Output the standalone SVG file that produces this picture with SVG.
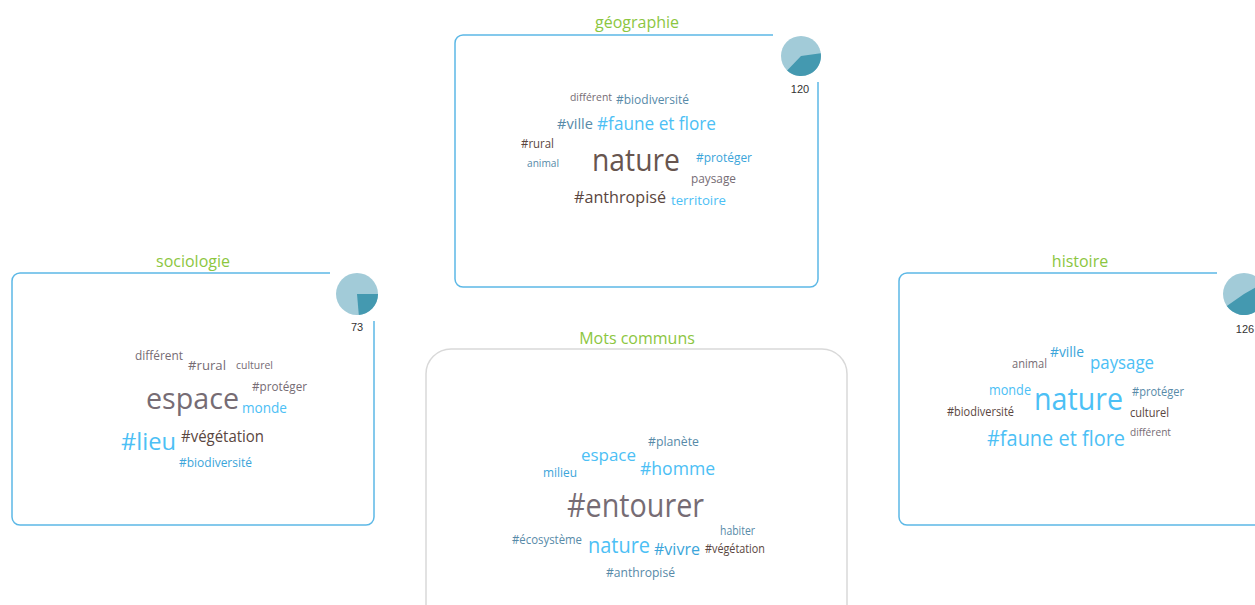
<svg xmlns="http://www.w3.org/2000/svg" width="1255" height="605" viewBox="0 0 1255 605">
<style>
text{font-family:"Open Sans","Noto Sans","DejaVu Sans",sans-serif}
.box{fill:none;stroke:#5cb8e6;stroke-width:1.5}
.cbox{fill:none;stroke:#d9d9d9;stroke-width:1.5}
.title{fill:#8cc63f;font-size:16px;text-anchor:middle}
.num{font-family:"Liberation Sans",Arial,sans-serif;font-size:11px;fill:#333;text-anchor:middle}
.pl{fill:#a2cbd8}
.pd{fill:#4499b0}
.g{fill:#766c74}
.br{fill:#67554f}
.db{fill:#5a4640}
.lb{fill:#4cc0f5}
.mb{fill:#3ba5da}
.sb{fill:#578aa8}
</style>
<rect width="1255" height="605" fill="#fff"/>
<g id="connectors"/>

<g id="node-geographie">
<text class="title" x="637" y="28">géographie</text>
<path class="box" d="M773,35 H463 A8,8 0 0 0 455,43 V279 A8,8 0 0 0 463,287 H810 A8,8 0 0 0 818,279 V82"/>
<circle class="pl" cx="801" cy="56" r="20"/>
<path class="pd" d="M801,56 L820.80,53.2 A20,20 0 0 1 787.14,70.39 Z"/>
<text class="num" x="800" y="93">120</text>
<text class="g" x="570" y="101" font-size="11" textLength="42" lengthAdjust="spacingAndGlyphs">différent</text>
<text class="sb" x="616" y="104" font-size="12" textLength="73" lengthAdjust="spacingAndGlyphs">#biodiversité</text>
<text class="sb" x="557" y="129" font-size="15" textLength="36" lengthAdjust="spacingAndGlyphs">#ville</text>
<text class="lb" x="597" y="130" font-size="18" textLength="119" lengthAdjust="spacingAndGlyphs">#faune et flore</text>
<text class="db" x="521" y="148" font-size="12" textLength="33" lengthAdjust="spacingAndGlyphs">#rural</text>
<text class="sb" x="527" y="167" font-size="11.5" textLength="32" lengthAdjust="spacingAndGlyphs">animal</text>
<text class="br" x="592" y="171" font-size="31" textLength="88" lengthAdjust="spacingAndGlyphs">nature</text>
<text class="mb" x="696" y="162" font-size="12.5" textLength="56" lengthAdjust="spacingAndGlyphs">#protéger</text>
<text class="g" x="691" y="183" font-size="12" textLength="45" lengthAdjust="spacingAndGlyphs">paysage</text>
<text class="db" x="574" y="203" font-size="16.5" textLength="92" lengthAdjust="spacingAndGlyphs">#anthropisé</text>
<text class="lb" x="671" y="205" font-size="13.5" textLength="55" lengthAdjust="spacingAndGlyphs">territoire</text>
</g>

<g id="node-sociologie">
<text class="title" x="193" y="267">sociologie</text>
<path class="box" d="M330,273 H20 A8,8 0 0 0 12,281 V517 A8,8 0 0 0 20,525 H366 A8,8 0 0 0 374,517 V321"/>
<circle class="pl" cx="357" cy="294" r="21"/>
<path class="pd" d="M357,294 L378,294 A21,21 0 0 1 358.83,314.92 Z"/>
<text class="num" x="357" y="331">73</text>
<text class="g" x="135" y="360" font-size="12" textLength="48" lengthAdjust="spacingAndGlyphs">différent</text>
<text class="g" x="188" y="370" font-size="13.5" textLength="38" lengthAdjust="spacingAndGlyphs">#rural</text>
<text class="g" x="236" y="369" font-size="11.5" textLength="37" lengthAdjust="spacingAndGlyphs">culturel</text>
<text class="g" x="252" y="391" font-size="12.5" textLength="55" lengthAdjust="spacingAndGlyphs">#protéger</text>
<text class="g" x="146" y="409" font-size="30" textLength="93" lengthAdjust="spacingAndGlyphs">espace</text>
<text class="lb" x="242" y="413" font-size="14.5" textLength="45" lengthAdjust="spacingAndGlyphs">monde</text>
<text class="lb" x="121" y="450" font-size="24" textLength="55" lengthAdjust="spacingAndGlyphs">#lieu</text>
<text class="db" x="181" y="442" font-size="16.5" textLength="83" lengthAdjust="spacingAndGlyphs">#végétation</text>
<text class="mb" x="179" y="467" font-size="12.5" textLength="73" lengthAdjust="spacingAndGlyphs">#biodiversité</text>
</g>

<g id="node-histoire">
<text class="title" x="1080" y="267">histoire</text>
<path class="box" d="M1217,273 H907 A8,8 0 0 0 899,281 V517 A8,8 0 0 0 907,525 H1255"/>
<circle class="pl" cx="1244" cy="294" r="21"/>
<path class="pd" d="M1244,294 L1262.19,283.5 A21,21 0 0 1 1226.80,306.05 Z"/>
<text class="num" x="1245" y="333">126</text>
<text class="g" x="1012" y="368" font-size="12" textLength="35" lengthAdjust="spacingAndGlyphs">animal</text>
<text class="mb" x="1050" y="357" font-size="15" textLength="34" lengthAdjust="spacingAndGlyphs">#ville</text>
<text class="lb" x="1090" y="369" font-size="18" textLength="64" lengthAdjust="spacingAndGlyphs">paysage</text>
<text class="lb" x="989" y="395" font-size="14.5" textLength="42" lengthAdjust="spacingAndGlyphs">monde</text>
<text class="lb" x="1034" y="410" font-size="31" textLength="89" lengthAdjust="spacingAndGlyphs">nature</text>
<text class="sb" x="1132" y="396" font-size="12.5" textLength="52" lengthAdjust="spacingAndGlyphs">#protéger</text>
<text class="db" x="947" y="416" font-size="12" textLength="67" lengthAdjust="spacingAndGlyphs">#biodiversité</text>
<text class="db" x="1130" y="417" font-size="12.5" textLength="39" lengthAdjust="spacingAndGlyphs">culturel</text>
<text class="g" x="1130" y="436" font-size="11.5" textLength="41" lengthAdjust="spacingAndGlyphs">différent</text>
<text class="lb" x="987" y="446" font-size="21" textLength="138" lengthAdjust="spacingAndGlyphs">#faune et flore</text>
</g>

<g id="node-communs">
<text class="title" x="637" y="344">Mots communs</text>
<path class="cbox" d="M426,610 V374 A25,25 0 0 1 451,349 H822 A25,25 0 0 1 847,374 V610"/>
<text class="sb" x="648" y="446" font-size="13" textLength="51" lengthAdjust="spacingAndGlyphs">#planète</text>
<text class="lb" x="581" y="461" font-size="17" textLength="55" lengthAdjust="spacingAndGlyphs">espace</text>
<text class="lb" x="640" y="475" font-size="18" textLength="75" lengthAdjust="spacingAndGlyphs">#homme</text>
<text class="mb" x="543" y="477" font-size="12" textLength="34" lengthAdjust="spacingAndGlyphs">milieu</text>
<text class="g" x="567" y="517" font-size="32" textLength="137" lengthAdjust="spacingAndGlyphs">#entourer</text>
<text class="sb" x="720" y="535" font-size="12" textLength="35" lengthAdjust="spacingAndGlyphs">habiter</text>
<text class="sb" x="512" y="544" font-size="12" textLength="70" lengthAdjust="spacingAndGlyphs">#écosystème</text>
<text class="lb" x="588" y="553" font-size="21" textLength="62" lengthAdjust="spacingAndGlyphs">nature</text>
<text class="mb" x="654" y="555" font-size="17" textLength="46" lengthAdjust="spacingAndGlyphs">#vivre</text>
<text class="db" x="705" y="553" font-size="12" textLength="60" lengthAdjust="spacingAndGlyphs">#végétation</text>
<text class="sb" x="606" y="577" font-size="12.5" textLength="69" lengthAdjust="spacingAndGlyphs">#anthropisé</text>
</g>
</svg>
